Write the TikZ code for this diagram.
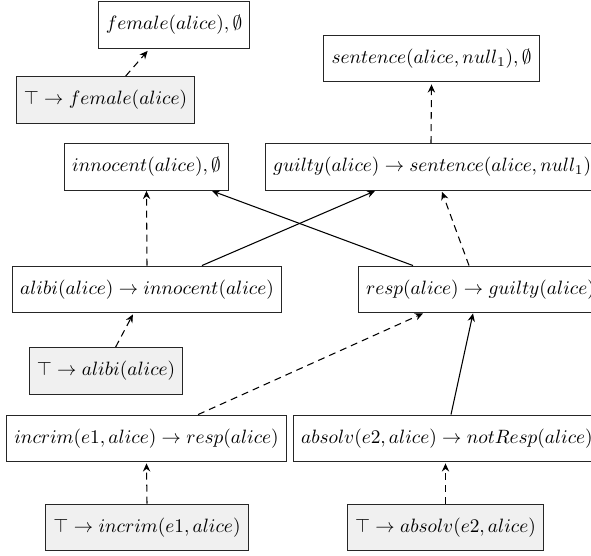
\documentclass[tikz,border=0pt]{standalone}
\usetikzlibrary{arrows.meta,calc}
\begin{document}
\begin{tikzpicture}[x=0.518pt,y=-0.518pt,
  box/.style={draw=black!85,line width=0.5pt,minimum height=24.3pt,inner xsep=4pt,inner ysep=0pt},
  fact/.style={box,fill=black!6},
  >={Stealth[length=4.2pt,width=3.8pt,inset=1.4pt]},
  strong/.style={->,line width=0.55pt},
  weak/.style={->,line width=0.55pt,dash pattern=on 3.6pt off 2.6pt}]
\useasboundingbox (0,0) rectangle (591,556);
% nodes
\node[box] (female) at (174,25) {$female(alice), \emptyset$};
\node[fact] (tfemale) at (105.5,100) {$\top \rightarrow female(alice)$};
\node[box] (sentence) at (431.5,58.5) {$sentence(alice, null_1), \emptyset$};
\node[box] (innocent) at (146.5,167) {$innocent(alice), \emptyset$};
\node[box,anchor=west] (guilty) at (265,167) {$guilty(alice) \rightarrow sentence(alice, null_1)$};
\node[box] (alibi) at (147,289.5) {$alibi(alice) \rightarrow innocent(alice)$};
\node[box,anchor=west] (resp) at (358,289.5) {$resp(alice) \rightarrow guilty(alice)$};
\node[fact] (talibi) at (106,371) {$\top \rightarrow alibi(alice)$};
\node[box] (incrim) at (146.5,438.5) {$incrim(e1, alice) \rightarrow resp(alice)$};
\node[box,anchor=west] (absolv) at (293,438.5) {$absolv(e2, alice) \rightarrow notResp(alice)$};
\node[fact] (tincrim) at (147,527.5) {$\top \rightarrow incrim(e1, alice)$};
\node[fact] (tabsolv) at (445.5,527.5) {$\top \rightarrow absolv(e2, alice)$};
% edges
\draw[weak] ($(tfemale.north west)+(110,0)$) -- ($(female.south west)+(50,2)$);
\draw[weak] ($(guilty.north west)+(166,0)$) -- ($(sentence.south)+(0,2)$);
\draw[weak] (alibi.north) -- (innocent.south);
\draw[strong] ($(alibi.north west)+(190,0)$) -- ($(guilty.south west)+(110,0)$);
\draw[strong] ($(resp.north west)+(55,0)$) -- ($(innocent.south west)+(148,0)$);
\draw[weak] ($(resp.north west)+(111,0)$) -- ($(guilty.south west)+(177,1)$);
\draw[weak] ($(talibi.north west)+(87,0)$) -- ($(alibi.south west)+(121,1)$);
\draw[weak] ($(incrim.north west)+(192,0)$) -- ($(resp.south west)+(65,0)$);
\draw[strong] ($(absolv.north west)+(158,0)$) -- ($(resp.south west)+(115,0)$);
\draw[weak] (tincrim.north) -- ($(incrim.south)+(0,1)$);
\draw[weak] (tabsolv.north) -- ($(absolv.south west)+(152.5,1)$);
\end{tikzpicture}
\end{document}
